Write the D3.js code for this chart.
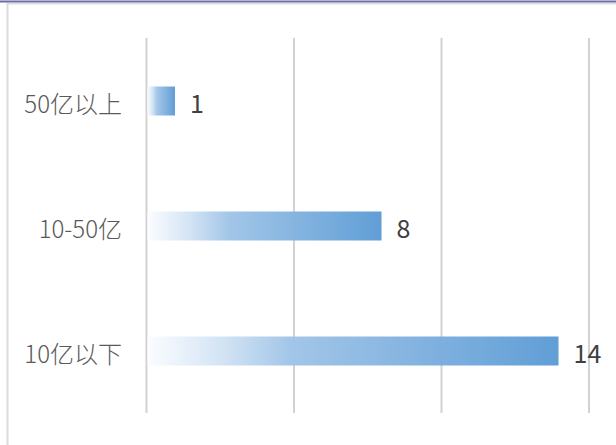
<!DOCTYPE html>
<html>
<head>
<meta charset="utf-8">
<script src="https://cdn.jsdelivr.net/npm/d3@7/dist/d3.min.js"></script>
<style>
  html, body { margin: 0; padding: 0; background: #fff; }
  svg { display: block; }
</style>
</head>
<body>
<svg id="chart" width="616" height="445"></svg>
<script>
// Company counts by scale band
const categories = ["50亿以上", "10-50亿", "10亿以下"];
const counts = [1, 8, 14];
const gridTicks = [0, 5, 10, 15];

const W = 616, H = 445;
const svg = d3.select("#chart");

const x = d3.scaleLinear().domain([0, 15]).range([146.5, 589]);
const y = d3.scaleBand().domain(categories).range([38.5, 413.5]).paddingInner(0.768).paddingOuter(0.384);

// frame edges
svg.append("rect").attr("x", 0).attr("y", 0.5).attr("width", W).attr("height", 2).attr("fill", "#6c6ca4");
svg.append("rect").attr("x", 6.5).attr("y", 3).attr("width", W).attr("height", 1.5).attr("fill", "#dcdcdc");
svg.append("rect").attr("x", 6.5).attr("y", 3).attr("width", 2).attr("height", H).attr("fill", "#dcdcdc");

// bar gradient: pale at the base, deepening to blue at the tip
const defs = svg.append("defs");
const grad = defs.append("linearGradient").attr("id", "barGrad")
  .attr("x1", "0%").attr("x2", "100%").attr("y1", "0%").attr("y2", "0%");
grad.append("stop").attr("offset", "0%").attr("stop-color", "#fbfdff");
grad.append("stop").attr("offset", "18%").attr("stop-color", "#d2e3f4");
grad.append("stop").attr("offset", "35%").attr("stop-color", "#9fc4e7");
grad.append("stop").attr("offset", "100%").attr("stop-color", "#5b9bd5");

// vertical gridlines
svg.append("g").selectAll("line").data(gridTicks).join("line")
  .attr("x1", d => x(d)).attr("x2", d => x(d))
  .attr("y1", 38).attr("y2", 413)
  .attr("stroke", "#d2d2d2").attr("stroke-width", 2);

// bars
svg.append("g").selectAll("rect").data(counts).join("rect")
  .attr("x", x(0) + 1)
  .attr("y", (d, i) => y(categories[i]))
  .attr("width", d => x(d) - x(0) - 2)
  .attr("height", y.bandwidth())
  .attr("fill", "url(#barGrad)")
  .attr("fill-opacity", 0.97);

const font = "'Noto Sans CJK SC', 'Noto Sans', sans-serif";

// category labels
svg.append("g").selectAll("text").data(categories).join("text")
  .attr("x", 122)
  .attr("y", d => y(d) + y.bandwidth() / 2 + 1)
  .attr("text-anchor", "end")
  .attr("dominant-baseline", "central")
  .attr("font-family", font)
  .attr("font-weight", 300)
  .attr("font-size", 24)
  .attr("fill", "#595959")
  .text(d => d);

// value labels
svg.append("g").selectAll("text").data(counts).join("text")
  .attr("x", d => x(d) + 14)
  .attr("y", (d, i) => y(categories[i]) + y.bandwidth() / 2 + 1)
  .attr("dominant-baseline", "central")
  .attr("font-family", font)
  .attr("font-size", 25)
  .attr("fill", "#404040")
  .text(d => d);
</script>
</body>
</html>
